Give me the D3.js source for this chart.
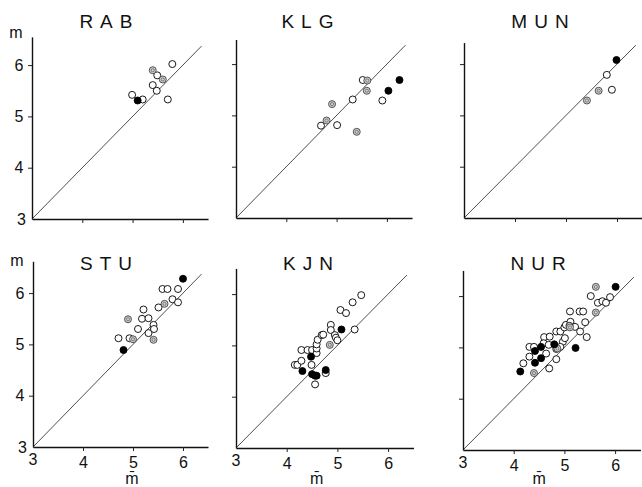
<!DOCTYPE html>
<html><head><meta charset="utf-8">
<script src="https://cdn.jsdelivr.net/npm/d3@7"></script>
<style>body{margin:0;background:#fff} svg{display:block}</style>
</head><body>
<svg id="c" width="642" height="487"></svg>
<script>
// ---- data: [m-bar, m, type]  type 0 = open, 1 = hatched, 2 = filled
const panelNames = ["RAB", "KLG", "MUN", "STU", "KJN", "NUR"];
const tickValues = [3, 4, 5, 6];
const tickLabels = ["3", "4", "5", "6"];
const yAxisLabel = "m";
const xAxisLabel = "m\u0304";

const RAB = [[4.99,5.42,0],[5.20,5.33,0],[5.40,5.61,0],[5.48,5.50,0],[5.49,5.80,0],[5.79,6.02,0],[5.70,5.33,0],
  [5.40,5.90,1],[5.60,5.72,1],[5.10,5.31,2]];
const KLG = [[4.69,4.80,0],[5.01,4.81,0],[5.32,5.31,0],[5.52,5.69,0],[5.91,5.29,0],
  [4.80,4.90,1],[4.91,5.22,1],[5.40,4.68,1],[5.61,5.68,1],[5.60,5.48,1],[6.03,5.48,2],[6.25,5.69,2]];
const MUN = [[5.80,5.79,0],[5.90,5.50,0],[5.41,5.29,1],[5.64,5.48,1],[5.99,6.08,2]];
const STU = [[4.71,5.12,0],[4.93,5.12,0],[5.10,5.30,0],[5.21,5.68,0],[5.18,5.50,0],[5.31,5.51,0],[5.31,5.22,0],
  [5.41,5.38,0],[5.42,5.30,0],[5.51,5.72,0],[5.59,6.08,0],[5.69,6.08,0],[5.79,5.88,0],[5.90,6.08,0],[5.90,5.82,0],
  [5.00,5.10,1],[4.90,5.49,1],[5.41,5.09,1],[5.63,5.79,1],[4.81,4.89,2],[6.00,6.28,2]];
const KJN = [[4.16,4.62,0],[4.21,4.62,0],[4.29,4.70,0],[4.29,4.91,0],[4.41,4.91,0],[4.50,4.91,0],[4.49,4.62,0],
  [4.59,4.85,0],[4.59,4.94,0],[4.59,5.02,0],[4.61,5.11,0],[4.69,5.20,0],[4.72,5.21,0],[4.87,5.40,0],[4.87,5.30,0],
  [4.95,5.20,0],[4.97,5.15,0],[5.00,5.10,0],[4.77,4.46,0],[4.56,4.24,0],[5.06,5.69,0],[5.17,5.63,0],[5.30,5.84,0],
  [5.47,5.98,0],[5.34,5.31,0],[4.85,5.01,1],
  [4.48,4.78,2],[4.31,4.50,2],[4.50,4.44,2],[4.56,4.41,2],[4.59,4.41,2],[4.77,4.52,2],[5.08,5.31,2]];
const NUR = [[4.19,4.69,0],[4.31,4.82,0],[4.31,5.01,0],[4.40,5.01,0],[4.60,5.20,0],[4.71,5.21,0],[4.64,4.88,0],
  [4.59,5.08,0],[4.69,5.05,0],[4.70,4.59,0],[4.84,4.77,0],[4.84,5.31,0],[4.92,5.31,0],[4.84,4.97,0],[4.97,5.11,0],
  [5.01,5.18,0],[4.92,5.01,0],[5.00,5.39,0],[5.03,5.44,0],[5.12,5.50,0],[5.21,5.40,0],[5.11,5.70,0],[5.30,5.70,0],
  [5.37,5.70,0],[5.41,5.49,0],[5.31,5.31,0],[5.44,5.20,0],[5.10,5.42,0],[5.52,6.00,0],[5.66,5.87,0],[5.75,5.90,0],
  [5.82,5.87,0],[5.90,5.98,0],
  [4.40,4.50,1],[4.86,4.98,1],[5.11,5.39,1],[5.62,5.68,1],[5.62,6.18,1],
  [4.13,4.53,2],[4.42,4.70,2],[4.42,4.93,2],[4.54,4.79,2],[4.54,5.01,2],[4.80,5.06,2],[5.22,4.99,2],[6.01,6.18,2]];
const panelData = [RAB, KLG, MUN, STU, KJN, NUR];

// ---- layout (pixels)
const layout = [
  {x0:32,  yb:219, ux:50.3, yTop:6.55, yLab:true,  xLab:false, titleX:4.47, titleY:28},
  {x0:236, yb:218, ux:50.3, yTop:6.48, yLab:false, xLab:false, titleX:4.42, titleY:28},
  {x0:464, yb:218, ux:51.0, yTop:6.42, yLab:false, xLab:false, titleX:4.49, titleY:28},
  {x0:33,  yb:447, ux:50.0, yTop:6.62, yLab:true,  xLab:true,  titleX:4.46, titleY:270, mX:4.98},
  {x0:236, yb:448, ux:50.7, yTop:6.5,  yLab:false, xLab:true,  titleX:4.42, titleY:270, mX:4.59},
  {x0:463, yb:450, ux:50.7, yTop:6.5,  yLab:false, xLab:true,  titleX:4.48, titleY:270, mX:4.50}
];
const uy = 51.3;
const font = "'Liberation Sans', Arial, Helvetica, sans-serif";
const labelSize = 16;
const svg = d3.select("#c");

layout.forEach((L, i) => {
  const x = d3.scaleLinear().domain([3, 6.5]).range([L.x0, L.x0 + 3.5 * L.ux]);
  const y = d3.scaleLinear().domain([3, L.yTop]).range([L.yb, L.yb - (L.yTop - 3) * uy]);
  const g = svg.append("g");

  const xAxis = d3.axisBottom(x).tickValues(tickValues.slice(1)).tickSize(4).tickSizeOuter(0)
    .tickFormat(L.xLab ? (d => tickLabels[tickValues.indexOf(d)]) : "");
  const gx = g.append("g").attr("transform", `translate(0,${L.yb})`).call(xAxis);
  const yAxis = d3.axisLeft(y).tickValues(tickValues.slice(1)).tickSize(4).tickSizeOuter(0)
    .tickFormat(L.yLab ? (d => tickLabels[tickValues.indexOf(d)]) : "");
  const gy = g.append("g").attr("transform", `translate(${L.x0},0)`).call(yAxis);
  [gx, gy].forEach(a => {
    a.select(".domain").attr("stroke", "#111").attr("stroke-width", 1.4);
    a.selectAll(".tick line").attr("stroke", "#222").attr("stroke-width", 1);
    a.selectAll("text").attr("font-family", font).attr("font-size", labelSize).attr("fill", "#111");
  });
  gx.selectAll(".tick text").attr("dy", "0.9em");
  gy.selectAll(".tick text").attr("dx", "-0.1em");

  // "3" labels at the origin
  if (L.yLab) {
    g.append("text").attr("x", L.x0 - 6).attr("y", y(3)).attr("dy", "0.35em")
      .attr("text-anchor", "end").attr("font-family", font).attr("font-size", labelSize).attr("fill", "#111")
      .text(tickLabels[0]);
    g.append("text").attr("x", L.x0 - 16).attr("y", y(6.55) + 1)
      .attr("text-anchor", "middle").attr("font-family", font).attr("font-size", labelSize).attr("fill", "#111")
      .text(yAxisLabel);
  }
  if (L.xLab) {
    g.append("text").attr("x", x(3)).attr("y", L.yb + 4).attr("dy", "0.9em")
      .attr("text-anchor", "middle").attr("font-family", font).attr("font-size", labelSize).attr("fill", "#111")
      .text(tickLabels[0]);
    g.append("text").attr("x", x(L.mX)).attr("y", 484)
      .attr("text-anchor", "middle").attr("font-family", font).attr("font-size", labelSize).attr("fill", "#111")
      .text(xAxisLabel);
  }

  // title
  g.append("text").attr("x", x(L.titleX) + 3.5).attr("y", L.titleY)
    .attr("text-anchor", "middle").attr("font-family", font).attr("font-size", 19)
    .attr("letter-spacing", "7px").attr("fill", "#111").text(panelNames[i]);

  // diagonal m = m-bar
  g.append("line").attr("x1", x(3)).attr("y1", y(3)).attr("x2", x(6.37)).attr("y2", y(6.37))
    .attr("stroke", "#222").attr("stroke-width", 0.8);

  // points
  const pts = g.selectAll("g.pt").data(panelData[i]).join("g").attr("class", "pt")
    .attr("transform", d => `translate(${x(d[0])},${y(d[1])})`);
  pts.append("circle").attr("r", 3.5)
    .attr("fill", d => d[2] === 2 ? "#000" : d[2] === 1 ? "#cfcfcf" : "#fff")
    .attr("stroke", d => d[2] === 1 ? "#444" : "#000")
    .attr("stroke-width", 0.9);
  pts.filter(d => d[2] === 1).append("circle").attr("r", 1.6)
    .attr("fill", "none").attr("stroke", "#666").attr("stroke-width", 0.8);
});
</script>
</body></html>
